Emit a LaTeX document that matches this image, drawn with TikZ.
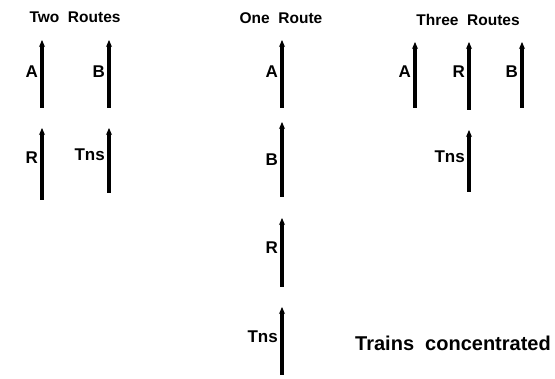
\documentclass[tikz,border=0pt]{standalone}
\usepackage{fontspec}
\setmainfont{Liberation Sans}
\usetikzlibrary{arrows.meta}
\tikzset{
  route/.style={line width=3.2pt, -{Stealth[length=7pt,width=6pt]}},
  lab/.style={anchor=east, inner sep=1pt, font=\fontsize{17}{17}\selectfont\bfseries},
  ttl/.style={font=\fontsize{15.5}{15.5}\selectfont\bfseries, inner sep=0pt},
}
\begin{document}
\begin{tikzpicture}[x=1pt,y=-1pt]
\useasboundingbox (0,0) rectangle (555,379);
% titles
\node[ttl] (t2) at (75,17) {Two\ \ Routes};
\node[ttl] (t1) at (281,18) {One\ \ Route};
\node[ttl] (t3) at (468,20) {Three\ \ Routes};
% Two routes
\coordinate (a2s) at (42,108); \coordinate (a2e) at (42,40);
\coordinate (b2s) at (109,108); \coordinate (b2e) at (109,40);
\coordinate (r2s) at (42,200); \coordinate (r2e) at (42,128);
\coordinate (n2s) at (109,193); \coordinate (n2e) at (109,128);
\draw[route] (a2s) -- (a2e);
\draw[route] (b2s) -- (b2e);
\draw[route] (r2s) -- (r2e);
\draw[route] (n2s) -- (n2e);
\node[lab] (la2) at (39,72) {A};
\node[lab] (lb2) at (106,72) {B};
\node[lab] (lr2) at (39,158) {R};
\node[lab] (ln2) at (106,155) {Tns};
% One route
\coordinate (a1s) at (282,108); \coordinate (a1e) at (282,40);
\coordinate (b1s) at (282,197); \coordinate (b1e) at (282,122);
\coordinate (r1s) at (282,287); \coordinate (r1e) at (282,218);
\coordinate (n1s) at (282,375); \coordinate (n1e) at (282,307);
\draw[route] (a1s) -- (a1e);
\draw[route] (b1s) -- (b1e);
\draw[route] (r1s) -- (r1e);
\draw[route] (n1s) -- (n1e);
\node[lab] (la1) at (279,72) {A};
\node[lab] (lb1) at (279,160) {B};
\node[lab] (lr1) at (279,248) {R};
\node[lab] (ln1) at (279,337) {Tns};
% Three routes
\coordinate (a3s) at (415,108); \coordinate (a3e) at (415,42);
\coordinate (r3s) at (469,110); \coordinate (r3e) at (469,42);
\coordinate (b3s) at (522,108); \coordinate (b3e) at (522,42);
\coordinate (n3s) at (469,192); \coordinate (n3e) at (469,130);
\draw[route] (a3s) -- (a3e);
\draw[route] (r3s) -- (r3e);
\draw[route] (b3s) -- (b3e);
\draw[route] (n3s) -- (n3e);
\node[lab] (la3) at (412,72) {A};
\node[lab] (lr3) at (466,72) {R};
\node[lab] (lb3) at (519,72) {B};
\node[lab] (ln3) at (466,157) {Tns};
% caption
\node[font=\fontsize{20}{20}\selectfont\bfseries, anchor=west, inner sep=0pt] (cap) at (355,343) {Trains\ \ concentrated};
\end{tikzpicture}
\end{document}
